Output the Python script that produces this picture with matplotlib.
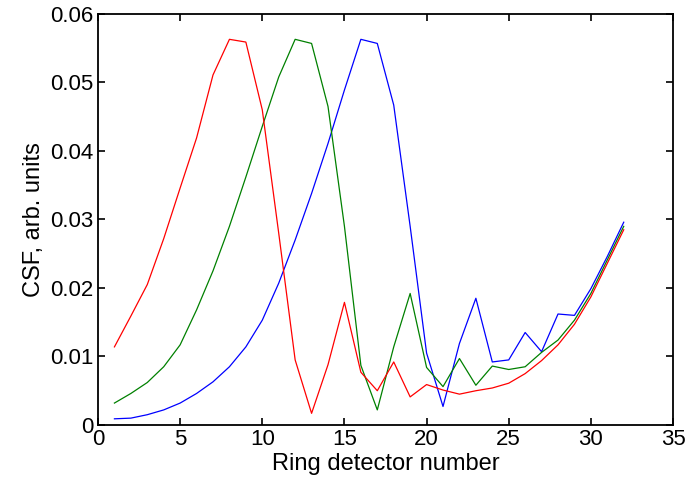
import numpy as np
import matplotlib
matplotlib.use("Agg")
import matplotlib.pyplot as plt

plt.rcParams['font.family'] = ['Liberation Sans', 'DejaVu Sans']

# ring detector index
ring = np.arange(1, 33)

# CSF curves (arb. units)
csf_blue = [0.0009, 0.0010, 0.0015, 0.0022, 0.0032, 0.0046, 0.0063, 0.0085,
            0.0114, 0.0153, 0.0207, 0.0270, 0.0338, 0.0411, 0.0489, 0.0563,
            0.0557, 0.0467, 0.0290, 0.0105, 0.0027, 0.0119, 0.0185, 0.0092,
            0.0095, 0.0135, 0.0107, 0.0162, 0.0160, 0.0199, 0.0246, 0.0296]
csf_green = [0.0032, 0.0046, 0.0062, 0.0085, 0.0117, 0.0168, 0.0225, 0.0290,
             0.0362, 0.0436, 0.0508, 0.0563, 0.0557, 0.0465, 0.0290, 0.0087,
             0.0022, 0.0114, 0.0192, 0.0084, 0.0056, 0.0097, 0.0058, 0.0086,
             0.0081, 0.0085, 0.0106, 0.0124, 0.0153, 0.0192, 0.0241, 0.0290]
csf_red = [0.0114, 0.0159, 0.0205, 0.0272, 0.0346, 0.0419, 0.0511, 0.0563,
           0.0559, 0.0460, 0.0280, 0.0095, 0.0017, 0.0088, 0.0179, 0.0077,
           0.0050, 0.0092, 0.0041, 0.0059, 0.0051, 0.0045, 0.0050, 0.0054,
           0.0061, 0.0075, 0.0094, 0.0117, 0.0147, 0.0187, 0.0236, 0.0285]

fig = plt.figure(figsize=(6.97, 4.82), dpi=100)
ax = fig.add_axes([0.1406, 0.1183, 0.8250, 0.8527])

ax.plot(ring, csf_blue, color=(0, 0, 1), lw=0.9)
ax.plot(ring, csf_green, color=(0, 0.5, 0), lw=0.9)
ax.plot(ring, csf_red, color=(1, 0, 0), lw=0.9)

ax.set_xlim(0, 35)
ax.set_ylim(0, 0.06)
ax.set_xticks(np.arange(0, 36, 5))
ax.set_yticks(np.arange(0, 0.061, 0.01))
ax.set_yticklabels(['0', '0.01', '0.02', '0.03', '0.04', '0.05', '0.06'])

ax.tick_params(direction='in', top=True, right=True, length=5, width=1.2,
               labelsize=16, pad=3)
for sp in ax.spines.values():
    sp.set_linewidth(1.3)

ax.set_xlabel('Ring detector number', fontsize=17, labelpad=2)
ax.set_ylabel('CSF, arb. units', fontsize=17, labelpad=4)

fig.savefig('out.png', dpi=100)
